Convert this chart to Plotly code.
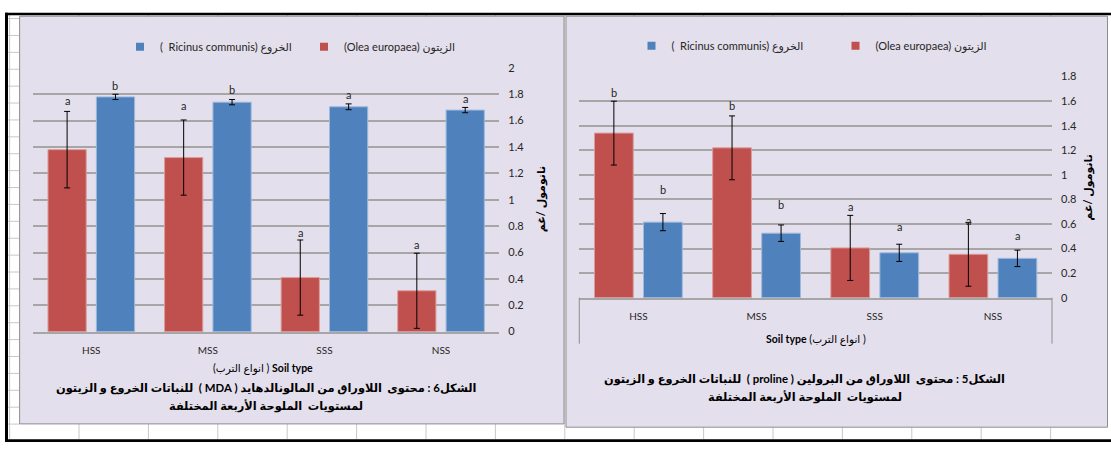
import plotly.graph_objects as go

# ---------------- data ----------------
categories = ["HSS", "MSS", "SSS", "NSS"]

# Figure 6 (left panel) - MDA
mda_olea = [1.38, 1.32, 0.41, 0.31]
mda_olea_err = [0.29, 0.285, 0.285, 0.285]
mda_ricinus = [1.78, 1.74, 1.705, 1.68]
mda_ricinus_err = [0.02, 0.02, 0.022, 0.02]
mda_olea_letters = ["a", "a", "a", "a"]
mda_ricinus_letters = ["b", "b", "a", "a"]
mda_olea_letter_y = [1.752, 1.718, 0.752, 0.662]
mda_ricinus_letter_y = [1.865, 1.833, 1.801, 1.769]
mda_ticks = [0, 0.2, 0.4, 0.6, 0.8, 1, 1.2, 1.4, 1.6, 1.8, 2]

# Figure 5 (right panel) - proline
pro_olea = [1.34, 1.22, 0.405, 0.353]
pro_olea_err = [0.26, 0.26, 0.265, 0.26]
pro_ricinus = [0.615, 0.525, 0.365, 0.32]
pro_ricinus_err = [0.07, 0.067, 0.07, 0.067]
pro_olea_letters = ["b", "b", "a", "a"]
pro_ricinus_letters = ["b", "b", "a", "a"]
pro_olea_letter_y = [1.674, 1.563, 0.746, 0.627]
pro_ricinus_letter_y = [0.878, 0.759, 0.582, 0.503]
pro_ticks = [0, 0.2, 0.4, 0.6, 0.8, 1, 1.2, 1.4, 1.6, 1.8]

name_ricinus = "(  Ricinus communis) الخروع"
name_olea = "(Olea europaea) الزيتون"
y_title = "نانومول /غم"
x_title_left = "(انواع الترب ) <b>Soil type</b>"
x_title_right = "<b>Soil type</b> (انواع الترب )"
RLE, PDF = "\u202b", "\u202c"
cap6_1 = "الشكل6 : محتوى  اللاوراق من المالونالدهايد ( MDA )  للنباتات الخروع و الزيتون"
cap6_2 = "لمستويات  الملوحة الأربعة المختلفة"
cap5_1 = "الشكل5 : محتوى  اللاوراق من البرولين ( proline )  للنباتات الخروع و الزيتون"
cap5_2 = "لمستويات  الملوحة الأربعة المختلفة"

# ---------------- style ----------------
W, H = 1111, 450
def fx(p):
    return p / W
def fy(p):
    return 1 - p / H

FONT = "Lato, 'DejaVu Sans', sans-serif"
RED, BLUE = "#C0504D", "#4F81BD"
RED_EDGE, BLUE_EDGE = "#DA9C9A", "#9DB9DD"
GRID = "#A6A6A6"
TXT = "#262626"
LAV = "#E4DFEC"
BORDER = "#8E8E8E"
BARGAP, GROUPGAP = 0.17, 0.21
OFF = (1 - BARGAP) / 4

fig = go.Figure()

def add_panel(xa, ya, olea, olea_err, ric, ric_err, legend):
    fig.add_trace(go.Bar(x=categories, y=olea, xaxis=xa, yaxis=ya, showlegend=False,
                         marker=dict(color=RED, line=dict(color=RED_EDGE, width=1)),
                         error_y=dict(type="data", array=olea_err, color="#000000", thickness=1, width=3),
                         hoverinfo="skip"))
    fig.add_trace(go.Bar(x=categories, y=ric, xaxis=xa, yaxis=ya, showlegend=False,
                         marker=dict(color=BLUE, line=dict(color=BLUE_EDGE, width=1)),
                         error_y=dict(type="data", array=ric_err, color="#000000", thickness=1, width=3),
                         hoverinfo="skip"))
    fig.add_trace(go.Scatter(x=[None], y=[None], xaxis=xa, yaxis=ya, mode="markers",
                             marker=dict(symbol="square", size=8, color=BLUE),
                             name=name_ricinus, legend=legend))
    fig.add_trace(go.Scatter(x=[None], y=[None], xaxis=xa, yaxis=ya, mode="markers",
                             marker=dict(symbol="square", size=8, color=RED),
                             name=name_olea, legend=legend))

add_panel("x", "y", mda_olea, mda_olea_err, mda_ricinus, mda_ricinus_err, "legend")
add_panel("x2", "y2", pro_olea, pro_olea_err, pro_ricinus, pro_ricinus_err, "legend2")

annotations = []
def letters(xref, yref, labels, ys, off):
    for i, (t, yv) in enumerate(zip(labels, ys)):
        annotations.append(dict(x=i + off, y=yv, xref=xref, yref=yref, text=t, showarrow=False,
                                font=dict(family=FONT, size=11, color=TXT)))

letters("x", "y", mda_olea_letters, mda_olea_letter_y, -OFF)
letters("x", "y", mda_ricinus_letters, mda_ricinus_letter_y, OFF)
letters("x2", "y2", pro_olea_letters, pro_olea_letter_y, -OFF)
letters("x2", "y2", pro_ricinus_letters, pro_ricinus_letter_y, OFF)

def ptext(text, x, y, size, bold=False, angle=0):
    annotations.append(dict(x=fx(x), y=fy(y), xref="paper", yref="paper", showarrow=False,
                            text=("<b>%s</b>" % text) if bold else text, textangle=angle,
                            xanchor="center", yanchor="middle",
                            font=dict(family=FONT, size=size, color="#000000")))

ptext(y_title, 541, 198, 11, True, -90)
ptext(y_title, 1088, 186, 11, True, -90)
ptext(x_title_left, 263, 372, 10.5)
ptext(x_title_right, 816, 342, 10.5)
ptext(RLE + cap6_1 + PDF, 266, 392, 11.4, True)
ptext(RLE + cap6_2 + PDF, 266, 411, 11.4, True)
ptext(RLE + cap5_1 + PDF, 804, 383.5, 11.4, True)
ptext(RLE + cap5_2 + PDF, 805, 402, 11.4, True)

shapes = []
def rect(x0, y0, x1, y1, fill, line=None, lw=0):
    shapes.append(dict(type="rect", xref="paper", yref="paper", x0=fx(x0), x1=fx(x1), y0=fy(y0), y1=fy(y1),
                       fillcolor=fill, line=dict(color=line or fill, width=lw), layer="below"))
def line(x0, y0, x1, y1, color, lw=1, layer="below"):
    shapes.append(dict(type="line", xref="paper", yref="paper", x0=fx(x0), x1=fx(x1), y0=fy(y0), y1=fy(y1),
                       line=dict(color=color, width=lw), layer=layer))

# spreadsheet grid
for k in range(17):
    xx = 9.6 + 69.4 * k
    line(xx, 8, xx, 445, "#C8C8C8", 1)
for k in range(26):
    yy = 11.9 + 17.4 * k
    line(8, yy, 19.6, yy, "#C8C8C8", 1)
# panels
rect(19.6, 9.5, 564, 429.3, LAV, BORDER, 1)
rect(566, 9.5, 1107.5, 432.7, LAV, BORDER, 1)
# category box of right chart
line(579.3, 299.3, 579.3, 346.7, BORDER, 1, "above")
line(1052, 299.3, 1052, 346.7, BORDER, 1, "above")
# black frame
rect(5, 6, 1111, 8.5, "#000000")
rect(5, 6, 8, 448, "#000000")
rect(5, 445, 1111, 448, "#000000")

tickfont = dict(family=FONT, size=11, color=TXT)
catfont = dict(family=FONT, size=10, color=TXT)
legfont = dict(family=FONT, size=11, color=TXT)

fig.update_layout(
    width=W, height=H, margin=dict(l=0, r=0, t=0, b=0),
    paper_bgcolor="white", plot_bgcolor="white",
    barmode="group", bargap=BARGAP, bargroupgap=GROUPGAP,
    xaxis=dict(domain=[fx(33), fx(499.3)], anchor="y", showgrid=False, showline=True,
               linecolor=GRID, linewidth=1.5, ticks="", tickfont=catfont, ticklabelstandoff=9,
               fixedrange=True),
    yaxis=dict(domain=[fy(334.3), fy(62.7)], anchor="x", side="right", range=[0, 2],
               tickvals=mda_ticks, ticktext=[("%g" % v) for v in mda_ticks],
               showgrid=True, gridcolor=GRID, gridwidth=1.5, zeroline=False, showline=False,
               ticks="", tickfont=tickfont, ticklabelstandoff=8, fixedrange=True),
    xaxis2=dict(domain=[fx(579.3), fx(1052)], anchor="y2", showgrid=False, showline=True,
                linecolor=GRID, linewidth=1.5, ticks="", tickfont=catfont, ticklabelstandoff=9,
                fixedrange=True),
    yaxis2=dict(domain=[fy(299.3), fy(71.7)], anchor="x2", side="right", range=[0, 1.8],
                tickvals=pro_ticks, ticktext=[("%g" % v) for v in pro_ticks],
                showgrid=True, gridcolor=GRID, gridwidth=1.5, zeroline=False, showline=False,
                ticks="", tickfont=tickfont, ticklabelstandoff=8, fixedrange=True),
    legend=dict(orientation="h", x=fx(120), xanchor="left", y=fy(41), yanchor="middle",
                bgcolor="rgba(0,0,0,0)", font=legfont,
                entrywidth=139, entrywidthmode="pixels", itemclick=False, itemdoubleclick=False),
    legend2=dict(orientation="h", x=fx(631.5), xanchor="left", y=fy(40), yanchor="middle",
                 bgcolor="rgba(0,0,0,0)", font=legfont,
                 entrywidth=159, entrywidthmode="pixels", itemclick=False, itemdoubleclick=False),
    annotations=annotations, shapes=shapes, showlegend=True,
)

fig.write_html("out.html")
